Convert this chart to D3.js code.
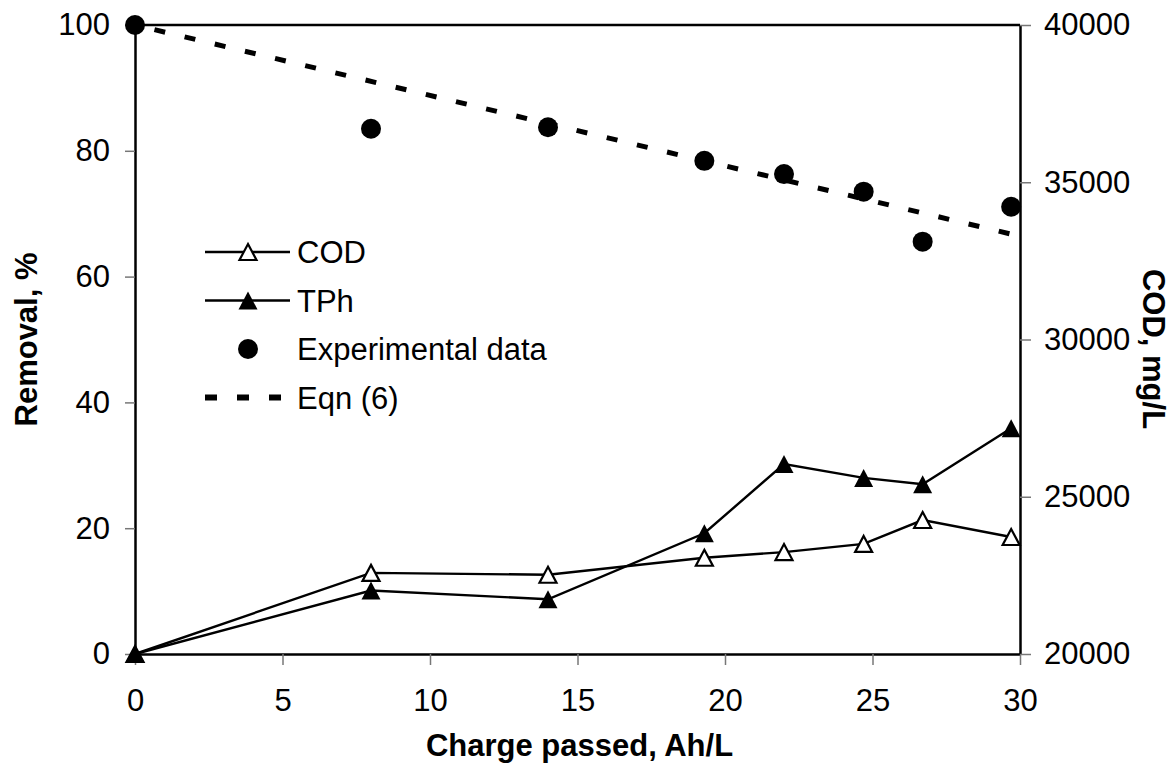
<!DOCTYPE html>
<html>
<head>
<meta charset="utf-8">
<script src="https://cdn.jsdelivr.net/npm/d3@7"></script>
<style>
  body { margin: 0; background: #fff; }
  text { font-family: "Liberation Sans", Arial, sans-serif; }
</style>
</head>
<body>
<div id="graph"></div>
<script>
//data
var chargeX = [0, 8, 14, 19.3, 22, 24.7, 26.7, 29.7];
var codRemoval = [0, 12.9, 12.6, 15.3, 16.2, 17.5, 21.3, 18.6];
var tphRemoval = [0, 10.1, 8.7, 19.2, 30.2, 28.0, 27.0, 35.9];
var codExp = [40000, 36700, 36750, 35680, 35260, 34700, 33110, 34220];
var eqnX = [0, 29.7];
var eqnCod = [40000, 33350];

var xTicks = [0, 5, 10, 15, 20, 25, 30];
var yTicks = [0, 20, 40, 60, 80, 100];
var y2Ticks = [20000, 25000, 30000, 35000, 40000];

var legendItems = ["COD", "TPh", "Experimental data", "Eqn (6)"];

//measurements
var width = 1174;
var height = 776;
var margin = { top: 25, right: 154, bottom: 122, left: 135 };
var chartWidth = width - margin.left - margin.right;
var chartHeight = height - margin.top - margin.bottom;
var fontSize = 31;

var svg = d3.select("#graph").append("svg")
    .attr("width", width)
    .attr("height", height);

var plot = svg.append("g")
    .attr("transform", "translate(" + margin.left + "," + margin.top + ")");

var x = d3.scaleLinear().domain([0, 30]).range([0, chartWidth]);
var y = d3.scaleLinear().domain([0, 100]).range([chartHeight, 0]);
var y2 = d3.scaleLinear().domain([20000, 40000]).range([chartHeight, 0]);

// axes
var xAxis = plot.append("g")
    .attr("transform", "translate(0," + chartHeight + ")")
    .call(d3.axisBottom(x).tickValues(xTicks).tickSize(11).tickPadding(24).tickSizeOuter(0));
var yAxis = plot.append("g")
    .call(d3.axisLeft(y).tickValues(yTicks).tickSize(10).tickPadding(15).tickSizeOuter(0));
var y2Axis = plot.append("g")
    .attr("transform", "translate(" + chartWidth + ",0)")
    .call(d3.axisRight(y2).tickValues(y2Ticks).tickFormat(d3.format("d"))
        .tickSize(11).tickPadding(13).tickSizeOuter(0));

[xAxis, yAxis, y2Axis].forEach(function (a) {
    a.select(".domain").attr("stroke", "#000").attr("stroke-width", 2.5);
    a.selectAll(".tick line").attr("stroke", "#777").attr("stroke-width", 1.5);
    a.selectAll(".tick text")
        .attr("fill", "#000")
        .style("font-size", fontSize + "px")
        .style("font-family", "'Liberation Sans', Arial, sans-serif");
});

// top frame line
plot.append("line")
    .attr("x1", 0).attr("x2", chartWidth)
    .attr("y1", 0).attr("y2", 0)
    .attr("stroke", "#000").attr("stroke-width", 2.5);

// axis titles
svg.append("text")
    .attr("x", margin.left + chartWidth / 2 + 2)
    .attr("y", 756)
    .attr("text-anchor", "middle")
    .style("font-size", fontSize + "px")
    .style("font-weight", "bold")
    .text("Charge passed, Ah/L");

svg.append("text")
    .attr("transform", "translate(37," + (margin.top + chartHeight / 2) + ") rotate(-90)")
    .attr("text-anchor", "middle")
    .style("font-size", fontSize + "px")
    .style("font-weight", "bold")
    .text("Removal, %");

svg.append("text")
    .attr("transform", "translate(1143,349) rotate(90)")
    .attr("text-anchor", "middle")
    .style("font-size", fontSize + "px")
    .style("font-weight", "bold")
    .text("COD, mg/L");

// markers
function triPath(w, h) {
    return "M0," + (-h / 2) + "L" + (w / 2) + "," + (h / 2) + "L" + (-w / 2) + "," + (h / 2) + "Z";
}

var removalLine = d3.line()
    .x(function (d) { return x(d[0]); })
    .y(function (d) { return y(d[1]); });

var codPts = chargeX.map(function (c, i) { return [c, codRemoval[i]]; });
var tphPts = chargeX.map(function (c, i) { return [c, tphRemoval[i]]; });

// Eqn (6) dashed line
var eqnLine = d3.line()
    .x(function (d) { return x(d[0]); })
    .y(function (d) { return y2(d[1]); });
plot.append("path")
    .datum(eqnX.map(function (c, i) { return [c, eqnCod[i]]; }))
    .attr("fill", "none")
    .attr("stroke", "#000")
    .attr("stroke-width", 5)
    .attr("stroke-dasharray", "11,20")
    .attr("stroke-dashoffset", -20)
    .attr("d", eqnLine);

// COD removal
plot.append("path")
    .datum(codPts)
    .attr("fill", "none")
    .attr("stroke", "#000")
    .attr("stroke-width", 2.4)
    .attr("d", removalLine);
plot.selectAll(".cod")
    .data(codPts)
    .enter().append("path")
    .attr("class", "cod")
    .attr("transform", function (d) { return "translate(" + x(d[0]) + "," + y(d[1]) + ")"; })
    .attr("d", triPath(17, 16))
    .attr("fill", "#fff")
    .attr("stroke", "#000")
    .attr("stroke-width", 2.2);

// TPh removal
plot.append("path")
    .datum(tphPts)
    .attr("fill", "none")
    .attr("stroke", "#000")
    .attr("stroke-width", 2.4)
    .attr("d", removalLine);
plot.selectAll(".tph")
    .data(tphPts)
    .enter().append("path")
    .attr("class", "tph")
    .attr("transform", function (d) { return "translate(" + x(d[0]) + "," + y(d[1]) + ")"; })
    .attr("d", triPath(19, 18))
    .attr("fill", "#000");

// experimental COD
plot.selectAll(".dot")
    .data(chargeX)
    .enter().append("circle")
    .attr("class", "dot")
    .attr("cx", function (d) { return x(d); })
    .attr("cy", function (d, i) { return y2(codExp[i]); })
    .attr("r", 10)
    .attr("fill", "#000");

// legend
var legend = svg.append("g").attr("transform", "translate(205,252)");
var rowGap = 48.5;
legendItems.forEach(function (name, i) {
    var row = legend.append("g").attr("transform", "translate(0," + (i * rowGap) + ")");
    if (i < 2) {
        row.append("line")
            .attr("x1", 0).attr("x2", 85)
            .attr("stroke", "#000").attr("stroke-width", 2.4);
        row.append("path")
            .attr("transform", "translate(43,0)")
            .attr("d", i == 0 ? triPath(17, 16) : triPath(19, 18))
            .attr("fill", i == 0 ? "#fff" : "#000")
            .attr("stroke", i == 0 ? "#000" : "none")
            .attr("stroke-width", 2.2);
    } else if (i == 2) {
        row.append("circle")
            .attr("cx", 43).attr("r", 10)
            .attr("fill", "#000");
    } else {
        row.append("line")
            .attr("x1", 0).attr("x2", 85)
            .attr("stroke", "#000").attr("stroke-width", 6)
            .attr("stroke-dasharray", "12,20");
    }
    row.append("text")
        .attr("x", 92)
        .attr("dy", "0.36em")
        .style("font-size", fontSize + "px")
        .text(name);
});
</script>
</body>
</html>
